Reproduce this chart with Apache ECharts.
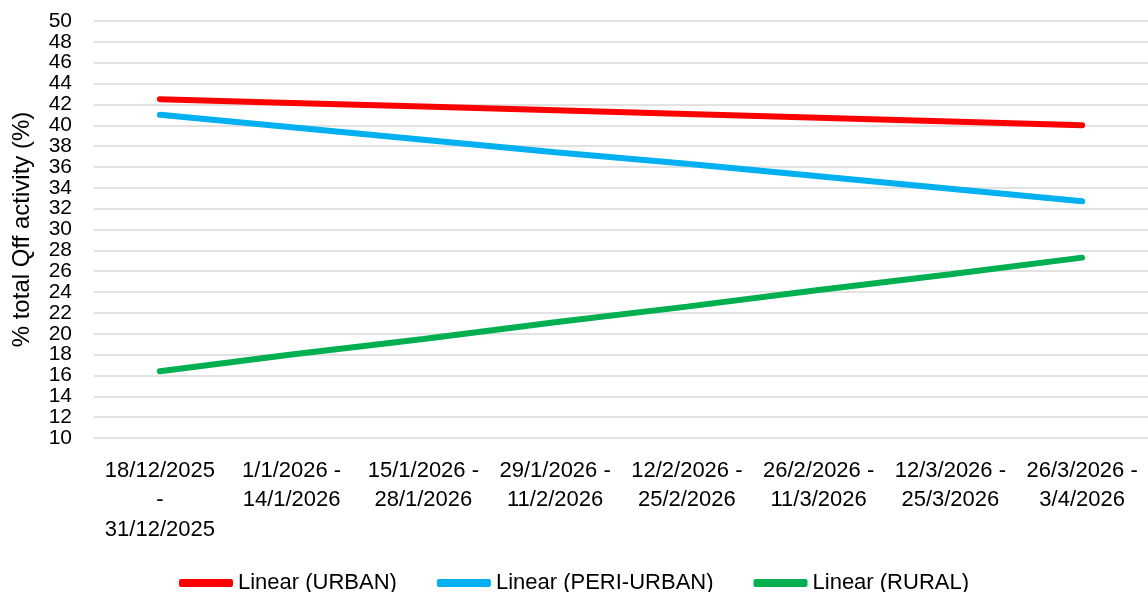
<!DOCTYPE html>
<html>
<head>
<meta charset="utf-8">
<script src="https://cdn.jsdelivr.net/npm/echarts@6/dist/echarts.min.js"></script>
<style>
  html, body { margin: 0; padding: 0; background: #fff; }
  #chart { width: 1148px; height: 592px; }
</style>
</head>
<body>
<div id="chart"></div>
<script>
// categories (two-week periods)
const periods = [
  '18/12/2025\n-\n31/12/2025',
  '1/1/2026 -\n14/1/2026',
  '15/1/2026 -\n28/1/2026',
  '29/1/2026 -\n11/2/2026',
  '12/2/2026 -\n25/2/2026',
  '26/2/2026 -\n11/3/2026',
  '12/3/2026 -\n25/3/2026',
  '26/3/2026 -\n3/4/2026'
]

// trend lines
const urban = [42.5, 42.14, 41.79, 41.43, 41.07, 40.71, 40.36, 40.0]
const periUrban = [41.0, 39.8, 38.6, 37.4, 36.3, 35.1, 33.9, 32.7]
const rural = [16.4, 18.0, 19.5, 21.1, 22.6, 24.2, 25.7, 27.3]

const seriesNames = ['Linear (URBAN)', 'Linear (PERI-URBAN)', 'Linear (RURAL)']
const colors = ['#ff0000', '#00b0f0', '#00b050']

const font = 'Liberation Sans, Arial, sans-serif'

let chart = echarts.init(document.getElementById('chart'))

function lineSeries(name, data, color) {
  return {
    name: name,
    type: 'line',
    data: data,
    symbol: 'none',
    smooth: false,
    animation: false,
    lineStyle: { color: color, width: 6, cap: 'round' },
    itemStyle: { color: color }
  }
}

let option = {
  backgroundColor: '#fff',
  grid: {
    left: 94, right: 0, top: 21, bottom: 154,
    containLabel: false,
    outerBoundsMode: 'none'
  },
  legend: {
    data: seriesNames,
    top: 567,
    left: 'center',
    itemWidth: 54,
    itemHeight: 8,
    itemGap: 40,
    icon: 'roundRect',
    textStyle: { fontFamily: font, fontSize: 22, color: '#000' }
  },
  xAxis: {
    type: 'category',
    data: periods,
    boundaryGap: true,
    axisLine: { show: false },
    axisTick: { show: false },
    axisLabel: {
      interval: 0,
      margin: 18,
      fontFamily: font,
      fontSize: 22,
      lineHeight: 29.5,
      color: '#000'
    }
  },
  yAxis: {
    type: 'value',
    min: 10,
    max: 50,
    interval: 2,
    name: '% total Qff activity (%)',
    nameLocation: 'middle',
    nameGap: 60,
    nameRotate: 90,
    nameTextStyle: { fontFamily: font, fontSize: 24, color: '#000' },
    axisLine: { show: false },
    axisTick: { show: false },
    axisLabel: { fontFamily: font, fontSize: 21, color: '#000', margin: 22 },
    splitLine: { lineStyle: { color: '#d9d9d9', width: 1.5 } }
  },
  series: [
    lineSeries(seriesNames[0], urban, colors[0]),
    lineSeries(seriesNames[1], periUrban, colors[1]),
    lineSeries(seriesNames[2], rural, colors[2])
  ]
}

chart.setOption(option)
</script>
</body>
</html>
